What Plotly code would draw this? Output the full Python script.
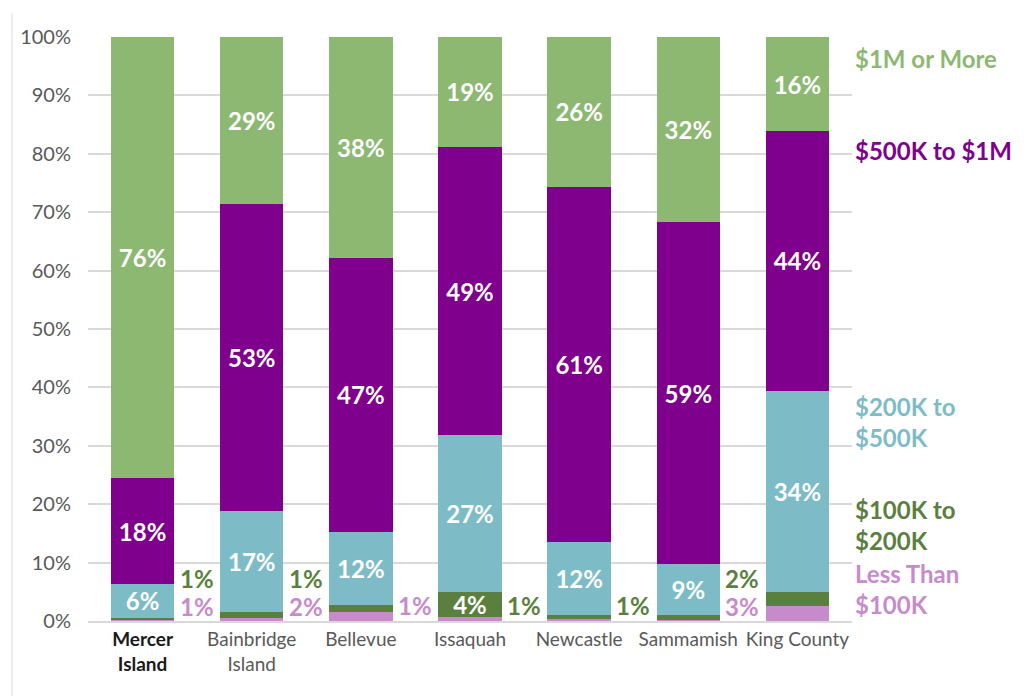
import plotly.graph_objects as go

categories = ["Mercer Island", "Bainbridge Island", "Bellevue", "Issaquah", "Newcastle", "Sammamish", "King County"]
tick_labels = ["<b><span style='color:#1a1a1a'>Mercer</span><br><span style='color:#1a1a1a'>Island</span></b>",
               "Bainbridge<br>Island", "Bellevue", "Issaquah", "Newcastle", "Sammamish", "King County"]

less_100k = [0.3, 0.6, 1.5, 0.7, 0.3, 0.2, 2.6]
k100_200 = [0.3, 0.9, 1.3, 4.3, 0.8, 0.9, 2.4]
k200_500 = [5.7, 17.3, 12.4, 26.8, 12.4, 8.6, 34.4]
k500_1m = [18.2, 52.6, 47.0, 49.4, 60.9, 58.6, 44.5]
m1_plus = [75.5, 28.6, 37.8, 18.8, 25.6, 31.7, 16.1]

series_names = ["Less Than<br>$100K", "$100K to<br>$200K", "$200K to<br>$500K", "$500K to $1M", "$1M or More"]
series_values = [less_100k, k100_200, k200_500, k500_1m, m1_plus]
series_colors = ["#c78bcb", "#5a7f3e", "#7dbcc7", "#7f008c", "#8db872"]

FONT = "Lato"

fig = go.Figure()
for name, vals, col in zip(series_names, series_values, series_colors):
    texts = [f"{round(v)}%" if v >= 3 else "" for v in vals]
    fig.add_trace(go.Bar(
        x=categories, y=vals, name=name, marker=dict(color=col, line=dict(width=0)),
        text=texts, textposition="inside", insidetextanchor="middle",
        textangle=0, constraintext="none",
        textfont=dict(family=FONT, size=24, color="white", weight="bold"),
        hoverinfo="skip",
    ))

annotations = []
# small-segment labels placed to the left of each bar
for i, cat in enumerate(categories):
    p = less_100k[i]
    g = k100_200[i]
    show_g = g < 3 and round(g) >= 1
    show_p = p < 3 and round(p) >= 1
    if i == 0:
        continue
    if show_g and show_p:
        annotations.append(dict(x=cat, y=7.2, xref="x", yref="y", text=f"{round(g)}%", showarrow=False,
                                xshift=-55, font=dict(family=FONT, size=24, color="#5a7f3e", weight="bold")))
        annotations.append(dict(x=cat, y=2.5, xref="x", yref="y", text=f"{round(p)}%", showarrow=False,
                                xshift=-55, font=dict(family=FONT, size=24, color="#c78bcb", weight="bold")))
    elif show_g:
        annotations.append(dict(x=cat, y=2.6, xref="x", yref="y", text=f"{round(g)}%", showarrow=False,
                                xshift=-55, font=dict(family=FONT, size=24, color="#5a7f3e", weight="bold")))
    elif show_p:
        annotations.append(dict(x=cat, y=2.6, xref="x", yref="y", text=f"{round(p)}%", showarrow=False,
                                xshift=-55, font=dict(family=FONT, size=24, color="#c78bcb", weight="bold")))

# right-side series labels
legend_y = [0.0548, 0.1644, 0.3408, 0.8065, 0.964]
for name, col, yy in zip(series_names, series_colors, legend_y):
    annotations.append(dict(x=1, y=yy, xref="paper", yref="paper", xanchor="left", yanchor="middle",
                            xshift=1, text=name, showarrow=False, align="left",
                            font=dict(family=FONT, size=24, color=col, weight="bold")))

fig.update_layout(
    barmode="stack", bargap=0.42,
    width=1026, height=696,
    margin=dict(l=80, r=182, t=29, b=83),
    paper_bgcolor="white", plot_bgcolor="white",
    showlegend=False,
    font=dict(family=FONT, color="#595959"),
    annotations=annotations,
    shapes=[dict(type="line", xref="paper", yref="paper", x0=-0.0995, x1=-0.0995, y0=-0.2, y1=1.04,
                 line=dict(color="#d9d9d9", width=1))],
    xaxis=dict(tickmode="array", tickvals=categories, ticktext=tick_labels,
               tickfont=dict(family=FONT, size=19, color="#595959"),
               showline=True, linecolor="#d9d9d9", linewidth=2, ticks="", showgrid=False),
    yaxis=dict(range=[0, 100], dtick=10, ticksuffix="%", showgrid=True, gridcolor="#d9d9d9",
               gridwidth=1.5, zeroline=False, ticklabelstandoff=16,
               tickfont=dict(family=FONT, size=20, color="#595959")),
)

fig.write_html("out.html")
